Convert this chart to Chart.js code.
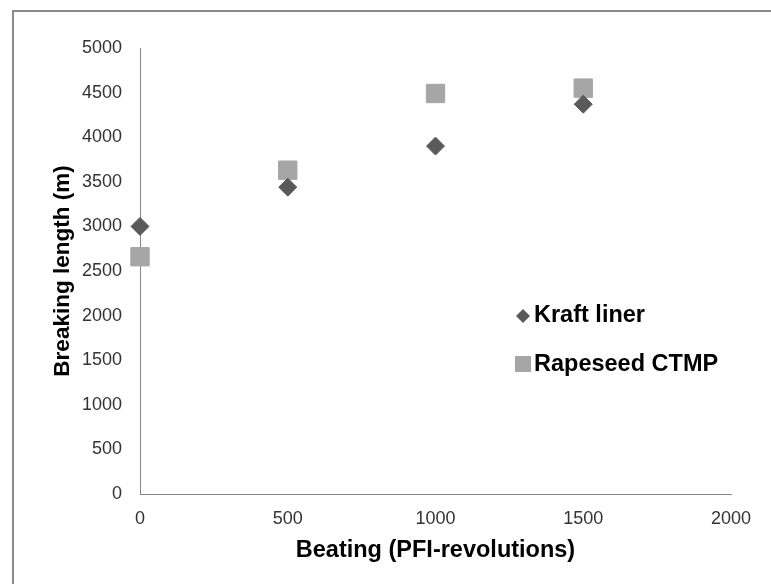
<!DOCTYPE html>
<html>
<head>
<meta charset="utf-8">
<script src="https://cdn.jsdelivr.net/npm/chart.js@4/dist/chart.umd.min.js"></script>
<style>
  html, body { margin: 0; padding: 0; background: #fff; overflow: hidden; }
  #wrap { position: relative; width: 771px; height: 584px; }
  #frame { position: absolute; left: 12px; top: 10px; width: 800px; height: 600px;
           border-top: 2px solid #8a8a8a; border-left: 2px solid #8a8a8a; }
  canvas { position: absolute; left: 0; top: 0; }
</style>
</head>
<body>
<div id="wrap">
  <div id="frame"></div>
  <canvas id="c" width="771" height="584"></canvas>
</div>
<script>
// beating levels (PFI revolutions) and breaking length (m)
const beating = [0, 500, 1000, 1500];
const kraftLiner = [3000, 3440, 3900, 4370];
const rapeseedCTMP = [2660, 3630, 4490, 4550];

const xTicks = { min: 0, max: 2000, step: 500 };
const yTicks = { min: 0, max: 5000, step: 500 };

const FONT = "'Liberation Sans', Arial, sans-serif";
const DARK = "#5a5a5a";
const LIGHT = "#a6a6a6";

const pts = (ys) => beating.map((x, i) => ({ x, y: ys[i] }));
const plain = (v) => String(v); // no thousands separator

// legend sits inside the plot, Excel style
const insideLegend = {
  id: "insideLegend",
  afterDraw(chart) {
    const ctx = chart.ctx;
    const x0 = 523;
    ctx.save();
    // diamond
    ctx.fillStyle = DARK;
    ctx.beginPath();
    ctx.moveTo(x0 - 7, 316); ctx.lineTo(x0, 309); ctx.lineTo(x0 + 7, 316); ctx.lineTo(x0, 323);
    ctx.closePath(); ctx.fill();
    // square
    ctx.fillStyle = LIGHT;
    ctx.fillRect(x0 - 8, 356, 16, 16);
    ctx.fillStyle = "#000";
    ctx.font = "bold 23.5px " + FONT;
    ctx.textBaseline = "middle";
    ctx.fillText("Kraft liner", 534, 316);
    ctx.fillText("Rapeseed CTMP", 534, 365);
    ctx.restore();
  },
};

new Chart(document.getElementById("c"), {
  type: "scatter",
  data: {
    datasets: [
      { label: "Kraft liner", data: pts(kraftLiner), pointStyle: "rectRot", pointRadius: 9, pointHoverRadius: 9,
        backgroundColor: DARK, borderColor: DARK, borderWidth: 1, clip: false },
      { label: "Rapeseed CTMP", data: pts(rapeseedCTMP), pointStyle: "rect", pointRadius: 13, pointHoverRadius: 13,
        backgroundColor: LIGHT, borderColor: LIGHT, borderWidth: 1, clip: false },
    ],
  },
  options: {
    responsive: false,
    animation: false,
    layout: { padding: { top: 48, right: 40, bottom: 0, left: 0 } },
    plugins: { legend: { display: false }, tooltip: { enabled: false } },
    scales: {
      x: {
        type: "linear", min: xTicks.min, max: xTicks.max,
        ticks: { stepSize: xTicks.step, padding: 14, color: "#333", font: { family: FONT, size: 18 }, callback: plain },
        grid: { display: true, drawOnChartArea: false, drawTicks: false },
        border: { display: true, color: "#868686", width: 1 },
        title: { display: true, text: "Beating (PFI-revolutions)", color: "#000",
                 font: { family: FONT, size: 23.5, weight: "bold" }, padding: { top: 0, bottom: 19 } },
        afterFit: (s) => { s.height = 90; },
      },
      y: {
        type: "linear", min: yTicks.min, max: yTicks.max,
        ticks: { stepSize: yTicks.step, padding: 18, color: "#333", font: { family: FONT, size: 18 }, callback: plain },
        grid: { display: true, drawOnChartArea: false, drawTicks: false },
        border: { display: true, color: "#868686", width: 1 },
        title: { display: true, text: "Breaking length (m)", color: "#000",
                 font: { family: FONT, size: 22.5, weight: "bold" }, padding: { top: 49.5, bottom: 0 } },
        afterFit: (s) => { s.width = 140; },
      },
    },
  },
  plugins: [insideLegend],
});
</script>
</body>
</html>
